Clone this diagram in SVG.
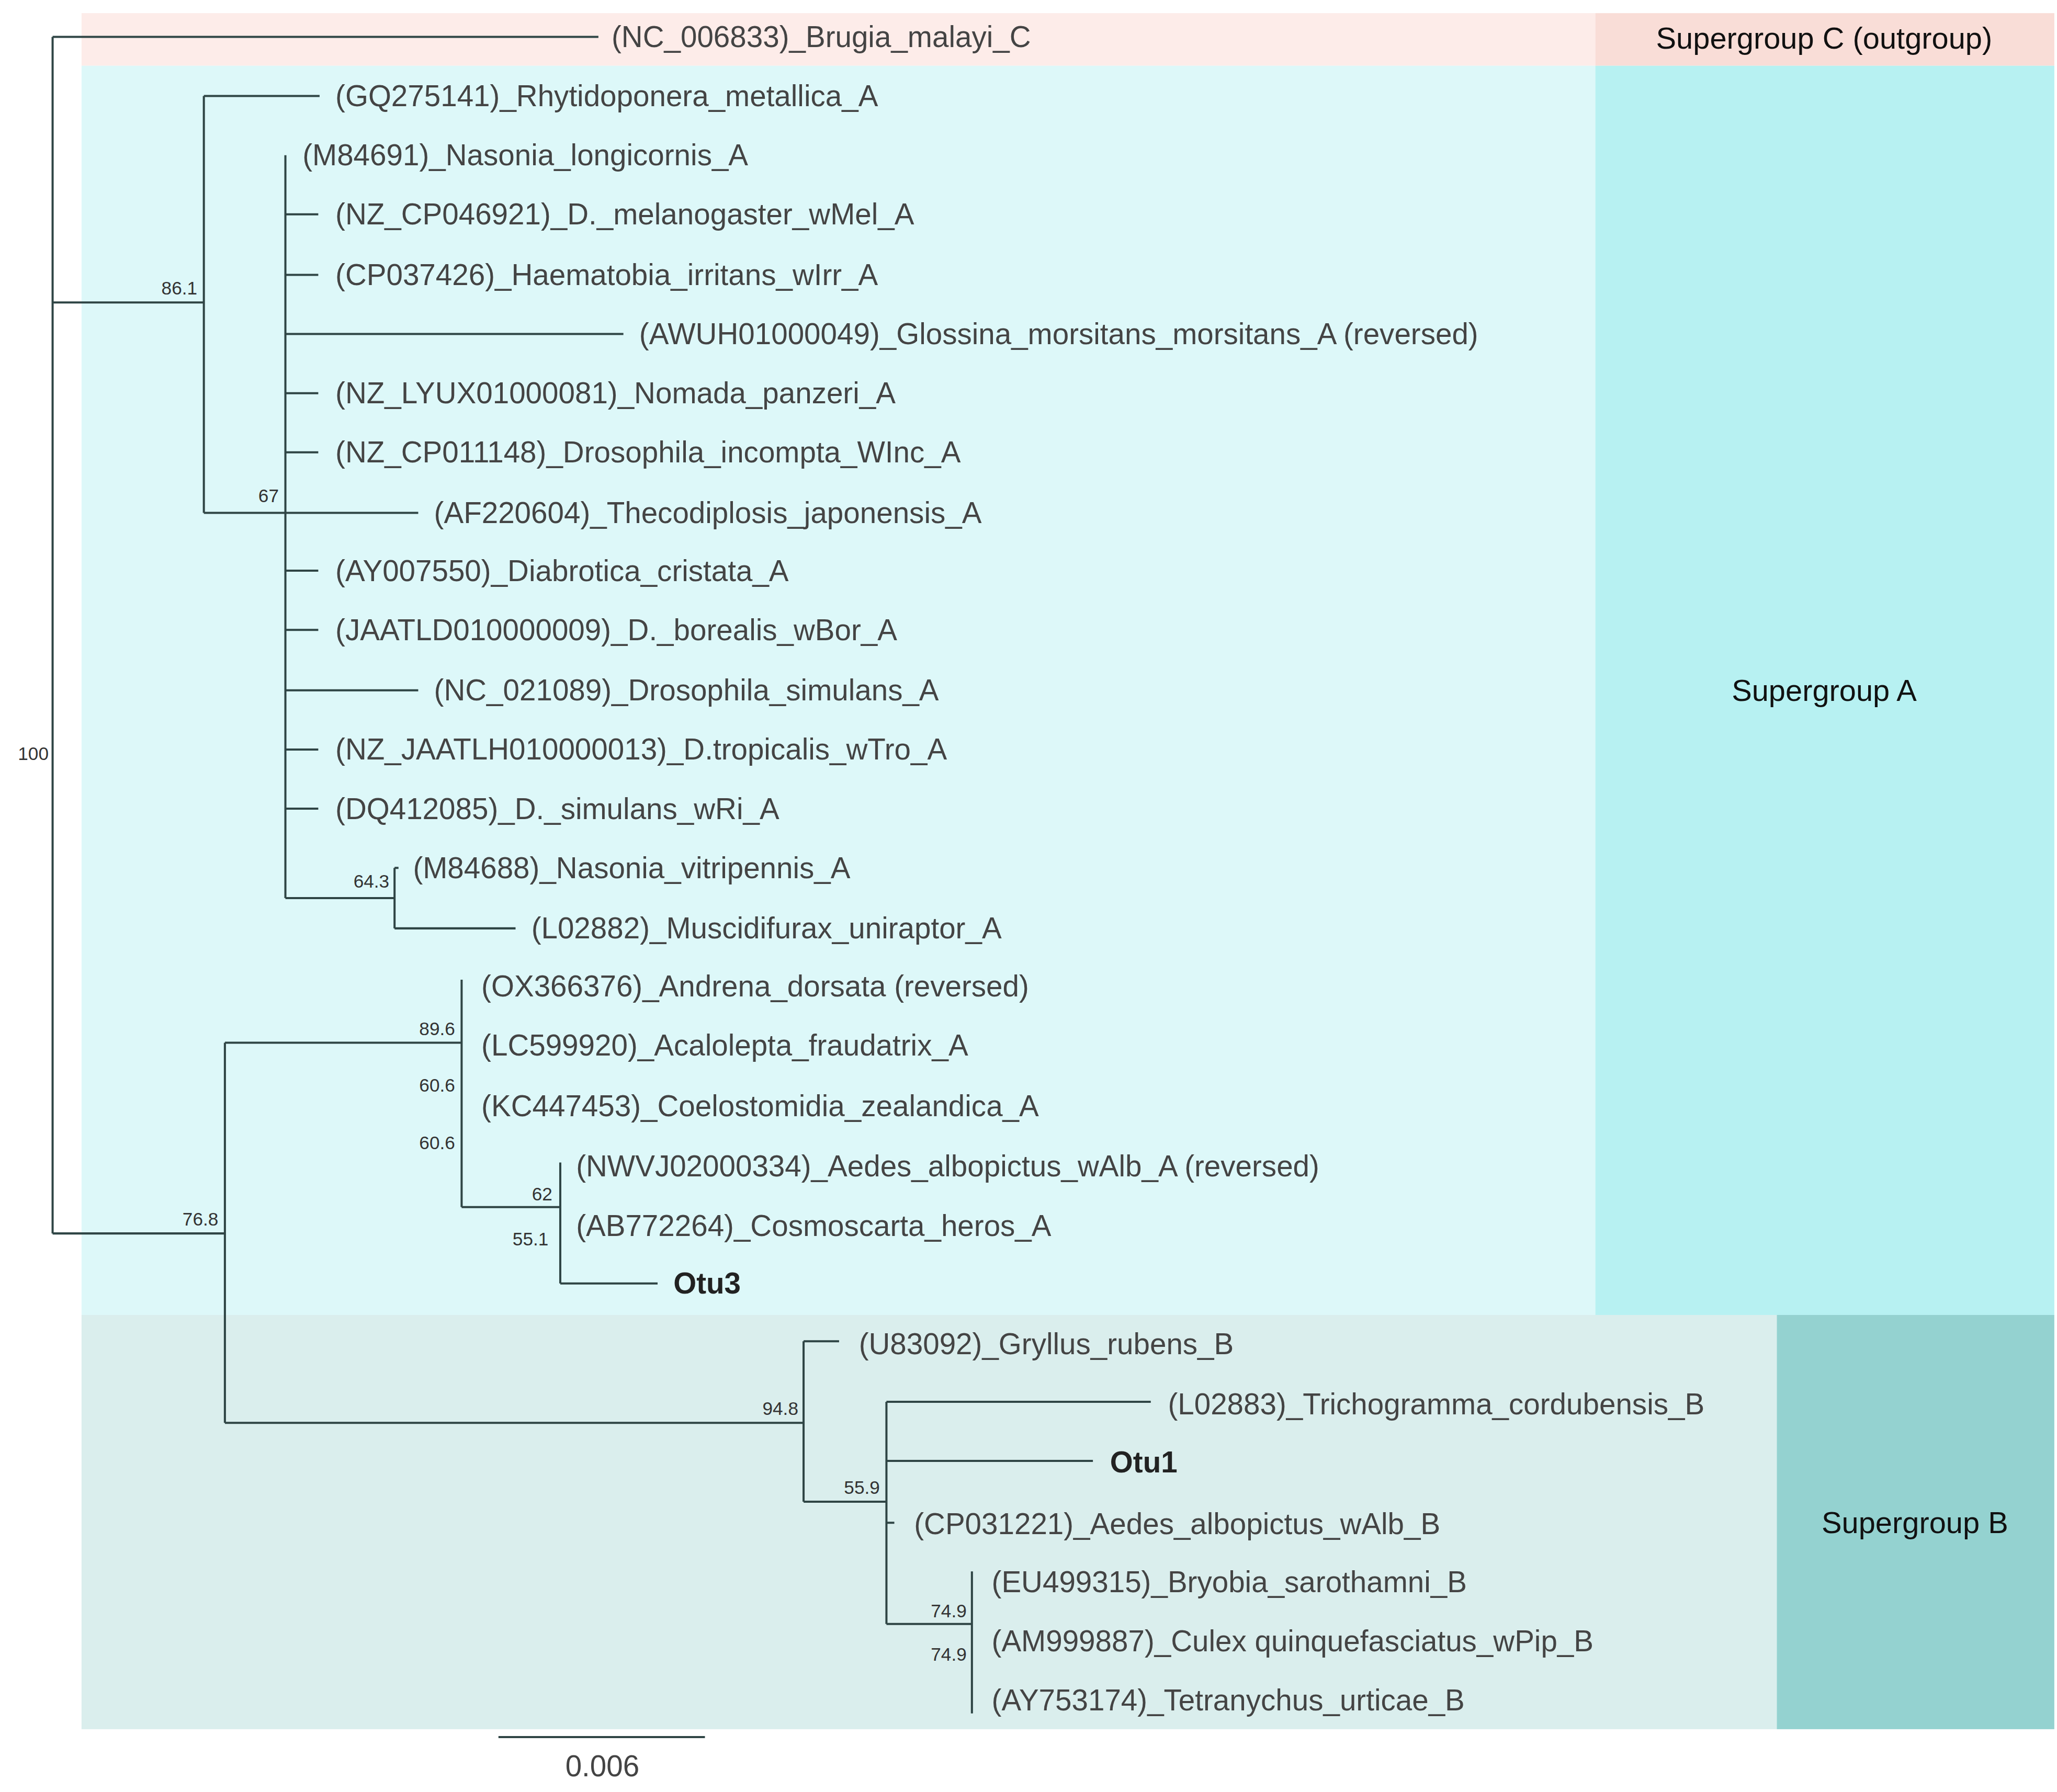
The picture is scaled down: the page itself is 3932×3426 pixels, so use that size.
<svg xmlns="http://www.w3.org/2000/svg" width="3932" height="3426" viewBox="0 0 3932 3426">
<style>
.l{font-family:"Liberation Sans",Arial,sans-serif;font-size:22.5px;fill:#444;dominant-baseline:central}
.b{font-weight:bold;fill:#222}
.s{font-family:"Liberation Sans",Arial,sans-serif;font-size:14px;fill:#333;text-anchor:end}
.g{font-family:"Liberation Sans",Arial,sans-serif;font-size:23px;fill:#111;text-anchor:middle;dominant-baseline:central}
.e{stroke:#2f4545;stroke-width:1.6;fill:none}
</style>
<rect width="3932" height="3426" fill="#fff"/>
<g transform="scale(2.514)">
<g id="bands">
<rect x="62" y="10" width="1151" height="40" fill="#fdece9"/>
<rect x="1213" y="10" width="349" height="40" fill="#f9ddd7"/>
<rect x="62" y="50" width="1151" height="950" fill="#ddf8f9"/>
<rect x="1213" y="50" width="349" height="950" fill="#b7f1f2"/>
<rect x="62" y="1000" width="1289" height="315" fill="#daeeed"/>
<rect x="1351" y="1000" width="211" height="315" fill="#94d2d0"/>
<text class="g" x="1387" y="29">Supergroup C (outgroup)</text>
<text class="g" x="1387" y="525">Supergroup A</text>
<text class="g" x="1456" y="1158">Supergroup B</text>
</g>
<g id="connectors" class="e">
<path d="M40 28V938M40 28H455M40 230H155M155 73V390M155 73H243M155 390H217M217 118V683"/>
<path d="M217 163H242M217 209H242M217 254H474M217 299H242M217 344H242M217 390H318M217 434H242M217 479H242M217 525H318M217 570H242M217 615H242"/>
<path d="M217 683H300M300 660V706M300 660H303M300 706H392"/>
<path d="M40 938H171M171 793V1082M171 793H351M351 745V918M351 918H426M426 884V976M426 976H500"/>
<path d="M171 1082H611M611 1020V1142M611 1020H638M611 1142H674M674 1066V1235M674 1066H875M674 1111H831M674 1158H680M674 1235H739M739 1195V1303"/>
<path d="M379 1321H536"/>
</g>
<g id="support">
<text class="s" x="150" y="224">86.1</text>
<text class="s" x="212" y="382">67</text>
<text class="s" x="296" y="675">64.3</text>
<text class="s" x="37" y="578">100</text>
<text class="s" x="166" y="932">76.8</text>
<text class="s" x="346" y="787">89.6</text>
<text class="s" x="346" y="830">60.6</text>
<text class="s" x="346" y="874">60.6</text>
<text class="s" x="420" y="913">62</text>
<text class="s" x="417" y="947">55.1</text>
<text class="s" x="607" y="1076">94.8</text>
<text class="s" x="669" y="1136">55.9</text>
<text class="s" x="735" y="1230">74.9</text>
<text class="s" x="735" y="1263">74.9</text>
</g>
<g id="leaves">
<text class="l" x="465" y="28">(NC_006833)_Brugia_malayi_C</text>
<text class="l" x="255" y="73">(GQ275141)_Rhytidoponera_metallica_A</text>
<text class="l" x="230" y="118">(M84691)_Nasonia_longicornis_A</text>
<text class="l" x="255" y="163">(NZ_CP046921)_D._melanogaster_wMel_A</text>
<text class="l" x="255" y="209">(CP037426)_Haematobia_irritans_wIrr_A</text>
<text class="l" x="486" y="254">(AWUH01000049)_Glossina_morsitans_morsitans_A (reversed)</text>
<text class="l" x="255" y="299">(NZ_LYUX01000081)_Nomada_panzeri_A</text>
<text class="l" x="255" y="344">(NZ_CP011148)_Drosophila_incompta_WInc_A</text>
<text class="l" x="330" y="390">(AF220604)_Thecodiplosis_japonensis_A</text>
<text class="l" x="255" y="434">(AY007550)_Diabrotica_cristata_A</text>
<text class="l" x="255" y="479">(JAATLD010000009)_D._borealis_wBor_A</text>
<text class="l" x="330" y="525">(NC_021089)_Drosophila_simulans_A</text>
<text class="l" x="255" y="570">(NZ_JAATLH010000013)_D.tropicalis_wTro_A</text>
<text class="l" x="255" y="615">(DQ412085)_D._simulans_wRi_A</text>
<text class="l" x="314" y="660">(M84688)_Nasonia_vitripennis_A</text>
<text class="l" x="404" y="706">(L02882)_Muscidifurax_uniraptor_A</text>
<text class="l" x="366" y="750">(OX366376)_Andrena_dorsata (reversed)</text>
<text class="l" x="366" y="795">(LC599920)_Acalolepta_fraudatrix_A</text>
<text class="l" x="366" y="841">(KC447453)_Coelostomidia_zealandica_A</text>
<text class="l" x="438" y="887">(NWVJ02000334)_Aedes_albopictus_wAlb_A (reversed)</text>
<text class="l" x="438" y="932">(AB772264)_Cosmoscarta_heros_A</text>
<text class="l b" x="512" y="976">Otu3</text>
<text class="l" x="653" y="1022">(U83092)_Gryllus_rubens_B</text>
<text class="l" x="888" y="1068">(L02883)_Trichogramma_cordubensis_B</text>
<text class="l b" x="844" y="1112">Otu1</text>
<text class="l" x="695" y="1159">(CP031221)_Aedes_albopictus_wAlb_B</text>
<text class="l" x="754" y="1203">(EU499315)_Bryobia_sarothamni_B</text>
<text class="l" x="754" y="1248">(AM999887)_Culex quinquefasciatus_wPip_B</text>
<text class="l" x="754" y="1293">(AY753174)_Tetranychus_urticae_B</text>
<text class="l" x="458" y="1343" text-anchor="middle">0.006</text>
</g>
</g>
</svg>
